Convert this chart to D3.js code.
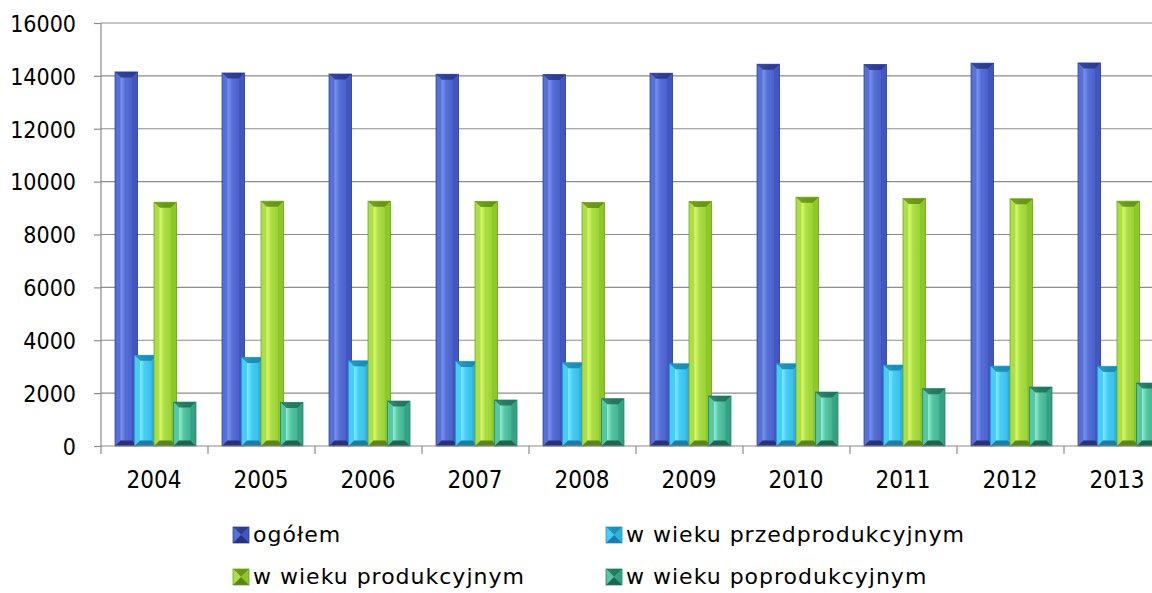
<!DOCTYPE html>
<html>
<head>
<meta charset="utf-8">
<script src="https://cdn.jsdelivr.net/npm/d3@7"></script>
<style>
  html, body { margin: 0; padding: 0; background: #fff; }
  svg text { font-family: "DejaVu Sans", Tahoma, sans-serif; fill: #000; }
</style>
</head>
<body>
<svg id="chart" width="1152" height="593"></svg>
<script>
const years = ["2004", "2005", "2006", "2007", "2008", "2009", "2010", "2011", "2012", "2013"]
const seriesNames = ["ogółem", "w wieku przedprodukcyjnym", "w wieku produkcyjnym", "w wieku poprodukcyjnym"]
const ogolem = [14150, 14110, 14070, 14060, 14050, 14100, 14440, 14430, 14480, 14490]
const przed = [3430, 3350, 3220, 3200, 3150, 3110, 3110, 3060, 3020, 3010]
const prod = [9220, 9260, 9260, 9250, 9210, 9250, 9410, 9360, 9350, 9260]
const popr = [1660, 1650, 1700, 1740, 1790, 1890, 2040, 2170, 2230, 2380]
const yTicks = [0, 2000, 4000, 6000, 8000, 10000, 12000, 14000, 16000]

// kolory: baza, jasny, ciemny
const palette = [
    { base: "#4156c0", light: "#7f9cf6", mid: "#5670d6", dark: "#25327f", edge: "#2c3a92" },
    { base: "#2eb2e2", light: "#86f0ff", mid: "#46cdf4", dark: "#167ea8", edge: "#1f8fbf" },
    { base: "#8cc828", light: "#e6ff78", mid: "#acdf46", dark: "#5a8612", edge: "#6a9c1c" },
    { base: "#34a385", light: "#98f6d6", mid: "#56c6a4", dark: "#1b6650", edge: "#23785e" }
]
const values = [ogolem, przed, prod, popr]

const svg = d3.select("#chart")
const defs = svg.append("defs")

const x = d3.scaleBand().domain(years).range([101, 101 + 107 * years.length]).paddingInner(0).paddingOuter(0)
const xs = d3.scaleBand().domain(seriesNames).range([14, 14 + 4 * 19.5])
const barW = 22.5
const y = d3.scaleLinear().domain([0, 16000]).range([446, 23])

// gradienty poziome dla środka słupka
palette.forEach((c, i) => {
    const g = defs.append("linearGradient").attr("id", "grad" + i).attr("x1", 0).attr("x2", 1).attr("y1", 0).attr("y2", 0)
    g.append("stop").attr("offset", "0%").attr("stop-color", c.mid)
    g.append("stop").attr("offset", "22%").attr("stop-color", c.light)
    g.append("stop").attr("offset", "45%").attr("stop-color", c.mid)
    g.append("stop").attr("offset", "100%").attr("stop-color", c.base)
})

// siatka
svg.append("g").selectAll("line").data(yTicks.slice(1)).enter().append("line")
    .attr("x1", 101).attr("x2", 1152).attr("y1", d => y(d)).attr("y2", d => y(d))
    .attr("stroke", "#8c8c8c").attr("stroke-width", 1.2)

// oś Y
const yAxis = svg.append("g").attr("transform", "translate(101,0)")
    .call(d3.axisLeft(y).tickValues(yTicks).tickSize(7).tickPadding(18).tickFormat(d3.format("d")))
yAxis.select(".domain").attr("stroke", "#8c8c8c").attr("stroke-width", 1.2).attr("d", "M0,23V446")
yAxis.selectAll(".tick line").attr("stroke", "#8c8c8c").attr("stroke-width", 1.2)
yAxis.selectAll(".tick text").attr("font-size", 23).attr("dy", "0.36em")
    .style("font-family", "'DejaVu Sans Condensed', 'DejaVu Sans', sans-serif")

function drawBar(g, bx, by, bw, bh, i, bev) {
    const c = palette[i]
    const b = Math.min(bev, bh / 2, bw / 2)
    g.append("rect").attr("x", bx).attr("y", by).attr("width", bw).attr("height", bh)
        .attr("fill", "url(#grad" + i + ")")
    const x0 = bx, x1 = bx + bw, y0 = by, y1 = by + bh
    // góra
    g.append("polygon").attr("points", [[x0, y0], [x1, y0], [x1 - b, y0 + b], [x0 + b, y0 + b]].join(" "))
        .attr("fill", c.dark).attr("opacity", 0.8)
    // lewa
    g.append("polygon").attr("points", [[x0, y0], [x0 + b, y0 + b], [x0 + b, y1 - b], [x0, y1]].join(" "))
        .attr("fill", c.mid)
    // prawa
    g.append("polygon").attr("points", [[x1, y0], [x1 - b, y0 + b], [x1 - b, y1 - b], [x1, y1]].join(" "))
        .attr("fill", c.base)
    // dół
    g.append("polygon").attr("points", [[x0, y1], [x0 + b, y1 - b], [x1 - b, y1 - b], [x1, y1]].join(" "))
        .attr("fill", c.dark)
    g.append("rect").attr("x", bx).attr("y", by).attr("width", bw).attr("height", bh)
        .attr("fill", "none").attr("stroke", c.edge).attr("stroke-width", 0.9).attr("stroke-opacity", 0.8)
}

const bars = svg.append("g")
years.forEach((yr, j) => {
    seriesNames.forEach((s, i) => {
        const v = values[i][j]
        drawBar(bars, x(yr) + xs(s), y(v), barW, y(0) - y(v), i, 5.5)
    })
})

// oś X
svg.append("line").attr("x1", 101).attr("x2", 1152).attr("y1", y(0)).attr("y2", y(0))
    .attr("stroke", "#8c8c8c").attr("stroke-width", 1.2)
svg.append("g").selectAll("line").data(years).enter().append("line")
    .attr("x1", d => x(d)).attr("x2", d => x(d)).attr("y1", y(0)).attr("y2", y(0) + 8)
    .attr("stroke", "#8c8c8c").attr("stroke-width", 1.2)
svg.append("g").selectAll("text").data(years).enter().append("text")
    .attr("x", d => x(d) + x.bandwidth() / 2 - 0.5).attr("y", 488)
    .attr("text-anchor", "middle").attr("font-size", 24)
    .style("font-family", "'DejaVu Sans Condensed', 'DejaVu Sans', sans-serif")
    .text(d => d)

// legenda
const legendPos = [[233, 542], [606, 542], [233, 584], [606, 584]]
seriesNames.forEach((s, i) => {
    const lg = svg.append("g")
    drawBar(lg, legendPos[i][0], legendPos[i][1] - 15, 16, 16, i, 8)
    lg.append("text").attr("x", legendPos[i][0] + 20).attr("y", legendPos[i][1])
        .attr("font-size", 22).attr("letter-spacing", 1).text(s)
})
</script>
</body>
</html>
